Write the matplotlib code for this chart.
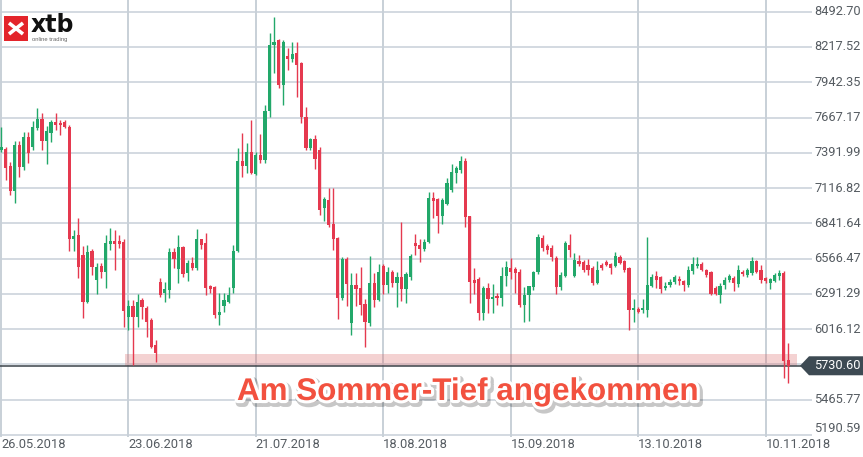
import numpy as np
import pandas as pd
import matplotlib
matplotlib.use('Agg')
import matplotlib.pyplot as plt
import matplotlib.patheffects as pe
from matplotlib.patches import Rectangle, Polygon
from matplotlib.transforms import blended_transform_factory

# daily BTC candles, 26.05.2018 - 15.11.2018
dates = pd.date_range('2018-05-26', periods=174, freq='D')

opens = [
    7414, 7422, 7289, 7094, 7453, 7281, 7515, 7437, 7586, 7656,
    7484, 7547, 7632, 7628, 7630, 7593, 6720, 6751, 6595, 6228,
    6626, 6400, 6509, 6462, 6681, 6704, 6704, 6696, 6111, 6197,
    6111, 6244, 6182, 6088, 5893, 6384, 6299, 6322, 6618, 6486,
    6657, 6455, 6533, 6494, 6720, 6689, 6353, 6345, 6127, 6197,
    6228, 6338, 6626, 7328, 7289, 7398, 7227, 7375, 7336, 7718,
    8233, 8272, 7921, 8147, 8124, 8171, 8093, 7671, 7430, 7500,
    7414, 6962, 7024, 6837, 6728, 6260, 6564, 6065, 6361, 6338,
    6213, 6065, 6377, 6244, 6509, 6361, 6462, 6377, 6423, 6330,
    6423, 6689, 6673, 6642, 6696, 7040, 7032, 6899, 6993, 7102,
    7234, 7258, 7328, 6899, 6400, 6408, 6143, 6338, 6252, 6276,
    6260, 6431, 6494, 6486, 6462, 6205, 6283, 6345, 6462, 6728,
    6665, 6650, 6572, 6345, 6431, 6673, 6431, 6548, 6540, 6517,
    6494, 6377, 6517, 6540, 6525, 6509, 6579, 6548, 6494, 6166,
    6174, 6166, 6166, 6353, 6431, 6423, 6338, 6361, 6384, 6408,
    6392, 6361, 6470, 6509, 6525, 6478, 6462, 6338, 6283, 6361,
    6400, 6416, 6369, 6462, 6439, 6455, 6548, 6478, 6416, 6377,
    6392, 6431, 6455, 5775]
highs = [
    7593, 7437, 7320, 7484, 7484, 7555, 7555, 7640, 7742, 7700,
    7601, 7648, 7700, 7648, 7650, 7610, 6790, 6880, 6665, 6673,
    6642, 6533, 6533, 6751, 6805, 6790, 6751, 6720, 6244, 6244,
    6291, 6260, 6197, 6104, 5932, 6416, 6384, 6650, 6650, 6751,
    6665, 6556, 6579, 6798, 6720, 6767, 6361, 6353, 6299, 6299,
    6345, 6673, 7430, 7547, 7469, 7648, 7398, 7539, 7765, 8326,
    8452, 8280, 8272, 8210, 8257, 8257, 8100, 7749, 7508, 7531,
    7437, 7047, 7118, 7118, 6735, 6579, 6579, 6455, 6455, 6501,
    6252, 6587, 6455, 6525, 6525, 6501, 6478, 6462, 6852, 6464,
    6603, 6759, 6720, 6720, 7086, 7086, 7040, 7040, 7195, 7305,
    7289, 7367, 7352, 6899, 6494, 6423, 6353, 6377, 6369, 6299,
    6501, 6548, 6572, 6501, 6486, 6345, 6353, 6470, 6759, 6751,
    6681, 6673, 6587, 6462, 6704, 6759, 6611, 6595, 6556, 6564,
    6509, 6548, 6533, 6556, 6533, 6618, 6595, 6556, 6501, 6252,
    6190, 6252, 6735, 6447, 6470, 6431, 6384, 6408, 6439, 6431,
    6400, 6509, 6579, 6579, 6540, 6486, 6470, 6353, 6377, 6423,
    6447, 6431, 6517, 6478, 6494, 6579, 6556, 6517, 6423, 6416,
    6455, 6478, 6470, 5905]
lows = [
    7398, 7180, 7062, 7000, 7203, 7258, 7313, 7414, 7570, 7414,
    7305, 7476, 7570, 7530, 7585, 6626, 6626, 6416, 6104, 6220,
    6439, 6291, 6416, 6338, 6634, 6478, 6650, 6033, 6010, 5735,
    6033, 6096, 5955, 5870, 5760, 6267, 6228, 6260, 6494, 6377,
    6423, 6392, 6478, 6478, 6642, 6283, 6299, 6104, 6049, 6150,
    6220, 6299, 6618, 7203, 7234, 7227, 7219, 7313, 7313, 7671,
    8014, 7900, 7765, 8038, 8100, 7827, 7625, 7414, 7414, 7266,
    6907, 6860, 6813, 6634, 6096, 6244, 6200, 5971, 6200, 6127,
    5877, 6041, 6190, 6236, 6291, 6299, 6345, 6189, 6236, 6221,
    6400, 6595, 6540, 6626, 6689, 6884, 6767, 6837, 6985, 7086,
    7157, 7234, 6813, 6221, 6291, 6088, 6088, 6143, 6143, 6205,
    6197, 6353, 6408, 6299, 6189, 6072, 6080, 6322, 6447, 6626,
    6603, 6548, 6291, 6322, 6423, 6579, 6423, 6509, 6462, 6440,
    6361, 6369, 6478, 6509, 6447, 6501, 6525, 6462, 6010, 6072,
    6143, 6143, 6111, 6345, 6338, 6299, 6322, 6345, 6369, 6361,
    6314, 6345, 6447, 6490, 6470, 6423, 6283, 6283, 6221, 6330,
    6384, 6314, 6345, 6431, 6423, 6439, 6455, 6377, 6377, 6330,
    6384, 6400, 5636, 5597]
closes = [
    7437, 7274, 7094, 7453, 7281, 7515, 7391, 7593, 7656, 7484,
    7562, 7632, 7609, 7605, 7595, 6720, 6743, 6501, 6228, 6618,
    6501, 6501, 6462, 6689, 6704, 6681, 6681, 6158, 6197, 6111,
    6228, 6189, 6072, 5877, 5831, 6283, 6330, 6618, 6564, 6657,
    6447, 6533, 6494, 6720, 6673, 6338, 6330, 6127, 6150, 6244,
    6283, 6626, 7328, 7289, 7398, 7234, 7375, 7336, 7718, 8233,
    8256, 7921, 8256, 8124, 8163, 8077, 7671, 7430, 7500, 7344,
    6946, 7032, 6829, 6720, 6260, 6564, 6369, 6361, 6330, 6205,
    6072, 6377, 6244, 6462, 6361, 6462, 6377, 6423, 6330, 6447,
    6587, 6665, 6642, 6696, 7040, 7016, 6899, 7024, 7157, 7242,
    7274, 7328, 6891, 6384, 6377, 6143, 6338, 6252, 6267, 6260,
    6431, 6501, 6462, 6455, 6205, 6283, 6353, 6462, 6735, 6650,
    6634, 6579, 6345, 6439, 6689, 6634, 6556, 6525, 6478, 6478,
    6377, 6478, 6494, 6517, 6494, 6587, 6533, 6478, 6166, 6182,
    6150, 6182, 6361, 6423, 6400, 6330, 6353, 6384, 6423, 6392,
    6361, 6478, 6525, 6525, 6478, 6439, 6291, 6291, 6353, 6400,
    6431, 6377, 6478, 6447, 6478, 6548, 6462, 6400, 6392, 6408,
    6439, 6455, 5770, 5730.60]

price_levels = [8492.70, 8217.52, 7942.35, 7667.17, 7391.99, 7116.82, 6841.64,
                6566.47, 6291.29, 6016.12, 5740.94, 5465.77, 5190.59]
hidden_level = 5740.94  # covered by the price tag
date_ticks = ['2018-05-26', '2018-06-23', '2018-07-21', '2018-08-18',
              '2018-09-15', '2018-10-13', '2018-11-10']
last_price = 5730.60
band_lo, band_hi = 5725, 5822
band_start, band_end = 27.2, 175.0  # in days from first candle
caption = 'Am Sommer-Tief angekommen'

green = '#22a86a'
red = '#e5394f'
grid_col = '#c8d0d9'
text_col = '#555b61'

W, H = 863, 457
fig = plt.figure(figsize=(W / 100, H / 100), dpi=100)
ax = fig.add_axes([0, (H - 437) / H, 812 / W, 437 / H])

x = np.arange(len(dates))
o = np.array(opens, float)
h = np.array(highs, float)
l = np.array(lows, float)
c = np.array(closes, float)
cols = np.where(c >= o, green, red)

ax.vlines(x, l, h, colors=cols, lw=1, zorder=3)
ax.bar(x, np.maximum(np.abs(c - o), 9), bottom=np.minimum(o, c), width=0.7,
       color=cols, lw=0, zorder=4)

# support band + current price line
ax.add_patch(Rectangle((band_start, band_lo), band_end - band_start, band_hi - band_lo,
                       facecolor='#dd6a6a', alpha=0.3, lw=0, zorder=2))
ax.axhline(last_price, color='#3b4349', lw=1.1, zorder=2.5)

ax.set_ylim(5175, 8584)
ax.set_xlim(-0.22, 178.2)
for s in ax.spines.values():
    s.set_visible(False)

ax.set_yticks(price_levels)
ax.grid(axis='y', color=grid_col, lw=1.1, zorder=0)
xt = [(pd.Timestamp(d) - dates[0]).days for d in date_ticks]
ax.set_xticks(xt)
ax.set_xticklabels([pd.Timestamp(d).strftime('%d.%m.%Y') for d in date_ticks],
                   ha='left', family='Roboto', fontsize=9.3, color=text_col)
ax.grid(axis='x', color='#b9c3cd', lw=1.1, zorder=0)
ax.tick_params(axis='x', length=0, pad=1)
ax.tick_params(axis='y', length=0, labelleft=False, labelright=False)
ax.set_axisbelow(True)

ytr = blended_transform_factory(fig.transFigure, ax.transData)
for lv in price_levels:
    if lv == hidden_level:
        continue
    va = 'bottom' if lv == price_levels[-1] else 'center'
    ax.text(814 / W, lv, f'{lv:.2f}', transform=ytr, ha='left', va=va,
            family='Roboto', fontsize=9.2, color=text_col, clip_on=False)

# price tag
dy = 9.5 * (8584 - 5175) / 437
tag = Polygon([[800 / W, last_price], [809 / W, last_price + dy], [1.0, last_price + dy],
               [1.0, last_price - dy], [809 / W, last_price - dy]],
              closed=True, transform=ytr, facecolor='#3d4a53', lw=0, clip_on=False, zorder=6)
ax.add_patch(tag)
ax.text(814 / W, last_price, f'{last_price:.2f}', transform=ytr, ha='left', va='center',
        family='Roboto', fontsize=9.2, color='white', zorder=7, clip_on=False)

# caption
fig.text(468 / W, 1 - 400 / H, caption, ha='center', va='baseline',
         fontsize=22.6, fontweight='bold', family='Liberation Sans', color='#f2513f',
         zorder=10,
         path_effects=[pe.Stroke(linewidth=6, foreground='black', alpha=0.22, offset=(1.5, -2)),
                       pe.Stroke(linewidth=4.5, foreground='white'), pe.Normal()])

# logo
fig.patches.append(Rectangle((4 / W, 1 - 41 / H), 24 / W, 25 / H, transform=fig.transFigure,
                             facecolor='#e3242b', lw=0, zorder=8))
fig.lines.append(plt.Line2D([9 / W, 23 / W], [1 - 23 / H, 1 - 34 / H], transform=fig.transFigure,
                            color='white', lw=2.6, solid_capstyle='butt', zorder=9))
fig.lines.append(plt.Line2D([9 / W, 23 / W], [1 - 34 / H, 1 - 23 / H], transform=fig.transFigure,
                            color='white', lw=2.6, solid_capstyle='butt', zorder=9))
fig.text(31 / W, 1 - 31.5 / H, 'xtb', ha='left', va='baseline', fontsize=17,
         fontweight='heavy', family='DejaVu Sans', color='#111111')
fig.text(32 / W, 1 - 40.5 / H, 'online trading', ha='left', va='baseline', fontsize=4.2,
         family='Liberation Sans', color='#666666')

fig.savefig('out.png', dpi=100)
